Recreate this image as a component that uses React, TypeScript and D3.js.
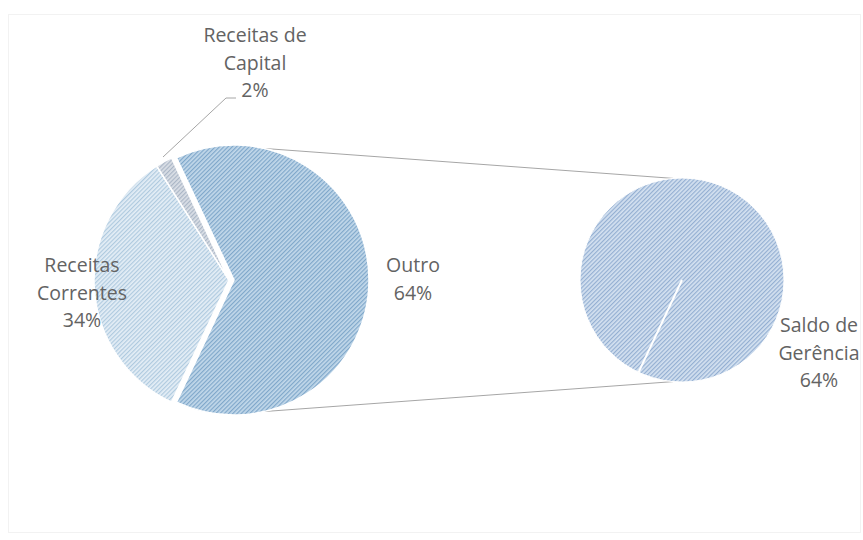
import React from "react";
import * as d3 from "d3";

const mainCategories = ["Outro", "Receitas Correntes", "Receitas de Capital"];
const mainValues = [64, 34, 2];
const mainLabels = [["Outro", "64%"], ["Receitas", "Correntes", "34%"], ["Receitas de", "Capital", "2%"]];
const secondCategories = ["Saldo de Gerência"];
const secondValues = [64];
const secondLabels = [["Saldo de", "Gerência", "64%"]];

const W = 863;
const H = 540;

export default function App() {
  const cx = 229, cy = 280, r = 135, explode = 5;
  const cx2 = 682, cy2 = 280, r2 = 102;
  const total = d3.sum(mainValues);
  const start = Math.PI / 2 - (mainValues[0] / total) * Math.PI;
  const pie = d3.pie<number>().sort(null).value((d) => d).startAngle(start).endAngle(start + 2 * Math.PI);
  const arcs = pie(mainValues);
  const arc = d3.arc<d3.PieArcDatum<number>>().innerRadius(0).outerRadius(r);
  const arcs2 = d3.pie<number>().sort(null).value((d) => d)(secondValues);
  const arc2 = d3.arc<d3.PieArcDatum<number>>().innerRadius(0).outerRadius(r2);

  const patterns = [
    { id: "pOutro", base: "#c2d8ea", line: "#7fa7ca" },
    { id: "pCorr", base: "#e4eef6", line: "#afcadf" },
    { id: "pCap", base: "#dadfe6", line: "#aab6c6" },
  ];
  const pat2 = { id: "pSaldo", base: "#d4e1f0", line: "#94afd2" };

  const pt = (x: number, y: number, rr: number, a: number): [number, number] => [x + rr * Math.sin(a), y - rr * Math.cos(a)];
  const deg = Math.PI / 180;
  const oc: [number, number] = [cx + explode, cy];
  const topL = pt(oc[0], oc[1], r, 13 * deg);
  const botL = pt(oc[0], oc[1], r, 167 * deg);
  const topR = pt(cx2, cy2, r2, -5 * deg);
  const botR = pt(cx2, cy2, r2, 185 * deg);
  const seamAngle = arcs[0].endAngle;
  const seam = pt(cx2, cy2, r2, seamAngle);

  const labelPos: [number, number][] = [[413, 265], [82, 265], [255, 35]];
  const label2Pos: [number, number][] = [[819, 325]];
  const lh = 27.5;
  const textStyle = { fontFamily: "'Open Sans', 'Noto Sans', sans-serif", fontSize: 19.5, fill: "#636363" } as React.CSSProperties;

  void mainCategories; void secondCategories;

  return (
    <svg width={W} height={H} style={{ position: "absolute", left: 0, top: 0, display: "block", background: "#fff" }}>
      <defs>
        {[...patterns, pat2].map((p) => (
          <pattern key={p.id} id={p.id} width={3} height={3} patternUnits="userSpaceOnUse" patternTransform="rotate(45)">
            <rect width={3} height={3} fill={p.base} />
            <rect width={1.2} height={3} fill={p.line} />
          </pattern>
        ))}
      </defs>
      <rect x={8.5} y={14.5} width={852} height={518} fill="none" stroke="#f2f2f2" />
      <line x1={topL[0]} y1={topL[1]} x2={topR[0]} y2={topR[1]} stroke="#a6a6a6" strokeWidth={1} />
      <line x1={botL[0]} y1={botL[1]} x2={botR[0]} y2={botR[1]} stroke="#a6a6a6" strokeWidth={1} />
      {arcs.map((a, i) => {
        const mid = (a.startAngle + a.endAngle) / 2;
        const off = i === 0 ? explode : 0;
        const tx = cx + off * Math.sin(mid);
        const ty = cy - off * Math.cos(mid);
        return (
          <path key={i} d={arc(a) || ""} transform={`translate(${tx},${ty})`} fill={`url(#${patterns[i].id})`} stroke="#ffffff" strokeWidth={1.5} />
        );
      })}
      {arcs2.map((a, i) => (
        <path key={i} d={arc2(a) || ""} transform={`translate(${cx2},${cy2})`} fill={`url(#${pat2.id})`} stroke="#ffffff" strokeWidth={1} />
      ))}
      <line x1={cx2} y1={cy2} x2={seam[0]} y2={seam[1]} stroke="#ffffff" strokeWidth={2} />
      <polyline points="236,98 226,98 163,157" fill="none" stroke="#a6a6a6" strokeWidth={1} />
      {mainLabels.map((lines, i) => (
        <text key={i} textAnchor="middle" style={textStyle}>
          {lines.map((t, j) => (
            <tspan key={j} x={labelPos[i][0]} y={labelPos[i][1] + j * lh} dy="0.36em">{t}</tspan>
          ))}
        </text>
      ))}
      {secondLabels.map((lines, i) => (
        <text key={i} textAnchor="middle" style={textStyle}>
          {lines.map((t, j) => (
            <tspan key={j} x={label2Pos[i][0]} y={label2Pos[i][1] + j * lh} dy="0.36em">{t}</tspan>
          ))}
        </text>
      ))}
    </svg>
  );
}
